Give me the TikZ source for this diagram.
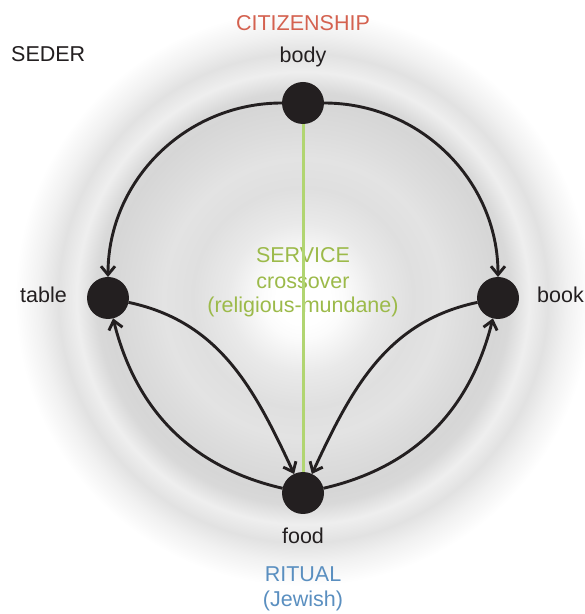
\documentclass[tikz,border=0pt]{standalone}
\usepackage{fontspec}
\setmainfont{Liberation Sans}
\usetikzlibrary{arrows.meta}
\definecolor{ink}{HTML}{231F20}
\definecolor{citi}{HTML}{D4614F}
\definecolor{ritual}{HTML}{5A8FC0}
\definecolor{serv}{HTML}{9CBA4A}
\definecolor{gline}{HTML}{B1D571}
\definecolor{h0}{gray}{1}
\definecolor{h1}{gray}{0.985}
\definecolor{h2}{gray}{0.915}
\definecolor{h3}{gray}{0.875}
\definecolor{h4}{gray}{0.89}
\definecolor{h5}{gray}{0.865}
\definecolor{h6}{gray}{0.84}
\definecolor{h7}{gray}{0.85}
\definecolor{h8}{gray}{0.935}
\definecolor{h9}{gray}{0.885}
\definecolor{h10}{gray}{0.945}
\pgfdeclareradialshading{halo}{\pgfpoint{0bp}{0bp}}{color(0bp)=(h0); color(2.2bp)=(h0); color(3.4bp)=(h1); color(6.25bp)=(h2); color(9.15bp)=(h3); color(11.65bp)=(h4); color(13.75bp)=(h5); color(16.25bp)=(h6); color(17.25bp)=(h7); color(18.85bp)=(h8); color(20.4bp)=(h9); color(22bp)=(h10); color(24bp)=(h0); color(50bp)=(h0)}
\tikzset{
  dot/.style={circle,fill=ink,minimum size=42pt,inner sep=0pt,outer sep=0pt},
  lbl/.style={font=\fontsize{21.5}{25}\selectfont,text=ink,inner sep=0pt},
  conn/.style={draw=ink,line width=2.9pt,-{Straight Barb[length=8.5pt,width=14pt]}},
  greenline/.style={draw=gline,line width=3pt}
}
\begin{document}
\begin{tikzpicture}[x=1pt,y=1pt]
\useasboundingbox (0,0) rectangle (585,614);
\clip (0,0) rectangle (585,614);
\fill[white] (0,0) rectangle (585,614);
\shade[shading=halo] (303,316) circle (300pt);
% labels
\node[lbl,anchor=base west] (seder) at (11,552) {SEDER};
\node[lbl,anchor=base,text=citi] (citizenship) at (303,583) {CITIZENSHIP};
\node[lbl,anchor=base] (bodylbl) at (303,551) {body};
\node[lbl,anchor=base east] (tablelbl) at (67,311) {table};
\node[lbl,anchor=base west] (booklbl) at (537,311) {book};
\node[lbl,anchor=base] (foodlbl) at (303,70) {food};
\node[lbl,anchor=base,text=ritual] (rituallbl) at (303,32) {RITUAL};
\node[lbl,anchor=base,text=ritual] (jewish) at (303,7) {(Jewish)};
\node[lbl,anchor=base,text=serv] (service) at (303,351) {SERVICE};
\node[lbl,anchor=base,text=serv] (crossover) at (303,325) {crossover};
\node[lbl,anchor=base,text=serv] (relmun) at (303,301) {(religious-mundane)};
% nodes
\node[dot] (body) at (303,511) {};
\node[dot] (table) at (108,316) {};
\node[dot] (book) at (498,316) {};
\node[dot] (food) at (303,121) {};
% connectors
\draw[greenline] (body.south) -- (food.north);
\draw[conn] (body) to[out=180,in=90] (table);
\draw[conn] (body) to[out=0,in=90] (book);
\draw[conn] (table) to[out=-12,in=115] (food);
\draw[conn] (food) to[out=167,in=-76] (table);
\draw[conn] (book) to[out=192,in=65] (food);
\draw[conn] (food) to[out=13,in=256] (book);
\end{tikzpicture}
\end{document}
